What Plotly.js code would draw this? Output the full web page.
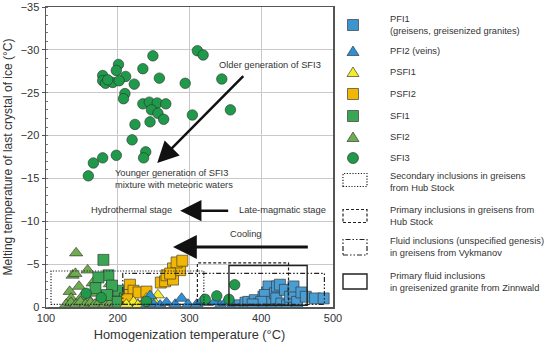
<!DOCTYPE html>
<html><head><meta charset="utf-8">
<script src="https://cdn.plot.ly/plotly-3.0.1.min.js"></script>
<style>html,body{margin:0;padding:0;background:#fff}#c{width:550px;height:343px}</style>
</head><body><div id="c"></div>
<script>
// ---- data (homogenization temperature °C, melting temperature °C) ----
const pfi1X = [370,378,382,391,396,403,408,410,405,414,419,421,422,426,428,433,436,440,445,445,450,456,462,400,388,475,487];
const pfi1Y = [-0.2,-0.5,-0.6,-0.8,-0.3,-1.2,-1.7,-2.4,-1.4,-0.6,-1.6,-1.0,-2.4,-2.6,-0.4,-2.0,-0.2,-1.2,-1.6,-2.4,-0.6,-1.7,-1.2,-0.6,-0.3,-1.0,-1.0];
const pfi2X = [240,250,259,268,280,289,298,310,318,324,335,343,350,361,372,380,390,400,410,245];
const pfi2Y = [-0.2,-0.3,-0.2,-0.5,-0.3,-1.0,-0.3,-0.3,-0.8,-0.5,-0.6,-0.2,-0.5,-0.3,-0.3,-0.6,-0.3,-0.4,-0.2,-1.3];
const psfi1X = [256,250,222,235,244,228,212,240];
const psfi1Y = [-1.4,-0.7,-0.6,-0.4,-0.3,-0.2,-0.3,-1.0];
const psfi2X = [217,217,222,229,240,213,260,266,268,277,277,287,282,290,273];
const psfi2Y = [-2.6,-1.4,-1.9,-1.7,-1.8,-0.9,-2.85,-3.0,-3.7,-3.2,-4.5,-4.3,-5.2,-5.4,-3.9];
const sfi1X = [180,187,173,169,201,192,210,185,200];
const sfi1Y = [-5.5,-3.7,-3.45,-2.2,-1.9,-2.5,-1.0,-1.4,-0.6];
const sfi2X = [142,137,141,158,146,165,133,135,189,150,170,160,128,135,142,148,155,162,168,175,182,190,197,205,212,220,228,178,195];
const sfi2Y = [-6.3,-3.7,-3.9,-4.3,-2.4,-2.8,-1.8,-1.0,-2.7,-1.2,-1.6,-0.8,-0.3,-0.5,-0.3,-0.6,-0.3,-0.5,-0.3,-0.6,-0.3,-0.5,-0.3,-0.5,-0.3,-0.4,-0.3,-1.2,-1.5];
const sfi3X = [249,311,319,201,198,235,179,211,258,179,183,193,202,186,223,294,345,210,208,235,244,255,267,247,256,264,304,357,224,245,220,239,236,198,179,166,159,
               156,177,240,322,338,355,363];
const sfi3Y = [-29.3,-29.9,-29.4,-28.3,-27.6,-27.8,-27.0,-26.9,-26.7,-26.4,-26.1,-26.2,-26.4,-26.5,-26.0,-26.1,-26.6,-24.9,-24.3,-23.7,-23.9,-23.8,-23.7,-23.0,-22.6,-21.9,-22.4,-23.0,-21.3,-21.6,-19.5,-18.1,-17.4,-17.7,-17.4,-16.8,-15.3,
               -1.6,-1.1,-0.65,-0.9,-1.3,-0.9,-2.6];
// literature fields (x from, x to, y from, y to)
const boxNames = ["Secondary inclusions in greisens<br>from Hub Stock","Primary inclusions in greisens from<br>Hub Stock","Fluid inclusions (unspecified genesis)<br>in greisens from Vykmanov","Primary fluid inclusions<br>in greisenized granite from Zinnwald"];
const boxX0 = [107,311,207,355];
const boxX1 = [320,438,488,464];
const boxY0 = [-0.3,-0.3,-0.3,-0.2];
const boxY1 = [-4.2,-5.15,-3.93,-4.85];
const xTicks = [100,200,300,400,500];

// ---- styling ----
const FONT = "Liberation Sans, Arial, sans-serif";
const TXT = "#333";
const FS = 9.3;
const series = [
  {name:"SFI2", x:sfi2X, y:sfi2Y, sym:"triangle-up", col:"#6fab4f", size:11.5},
  {name:"SFI1", x:sfi1X, y:sfi1Y, sym:"square", col:"#3aa655", size:11},
  {name:"PSFI2", x:psfi2X, y:psfi2Y, sym:"square", col:"#f2b705", size:11},
  {name:"PSFI1", x:psfi1X, y:psfi1Y, sym:"triangle-up", col:"#f4ee2a", size:11.5},
  {name:"PFI2", x:pfi2X, y:pfi2Y, sym:"triangle-up", col:"#2e8fd2", size:11.5},
  {name:"PFI1", x:pfi1X, y:pfi1Y, sym:"square", col:"#4a9dd2", size:11},
  {name:"SFI3", x:sfi3X, y:sfi3Y, sym:"circle", col:"#1f9a4a", size:10.5}
];
const traces = series.map(s => ({
  type:"scatter", mode:"markers", name:s.name, x:s.x, y:s.y, cliponaxis:true,
  marker:{symbol:s.sym, color:s.col, size:s.size, line:{color:"rgba(45,45,45,0.75)", width:0.8}},
  showlegend:false, hoverinfo:"skip"
}));

// pixel helpers for the hand-drawn legend (plot area: x 46..333, y 7..307)
const L=46, R=333, T=7, B=307;
const px = p => (p-L)/(R-L);
const py = p => (B-p)/(B-T);

const shapes = [];
const annotations = [];
const dashes = ["1.2px,1.6px","3px,2px","5px,2px,1.5px,2px,1.5px,2px","solid"];
boxNames.forEach((n,i)=>{
  shapes.push({type:"rect", xref:"x", yref:"y", x0:boxX0[i], x1:boxX1[i], y0:boxY0[i], y1:boxY1[i],
    line:{color:"#222", width: i===3?1.4:1.2, dash:dashes[i]}, layer:"above"});
});

// legend: marker entries
const legItems = [
  {t:"PFI1<br>(greisens, greisenized granites)", sym:"square", col:"#3d95d0", y:25},
  {t:"PFI2 (veins)", sym:"tri", col:"#2e8fd2", y:51},
  {t:"PSFI1", sym:"tri", col:"#f4ee2a", y:72},
  {t:"PSFI2", sym:"square", col:"#f2b705", y:94},
  {t:"SFI1", sym:"square", col:"#3aa655", y:116},
  {t:"SFI2", sym:"tri", col:"#6fab4f", y:137},
  {t:"SFI3", sym:"circle", col:"#1f9a4a", y:158}
];
const mx = 353;
legItems.forEach(it=>{
  const ln = {color:"rgba(45,45,45,0.8)", width:0.8};
  if (it.sym==="square") shapes.push({type:"rect", xref:"paper", yref:"paper", x0:px(mx-5.5), x1:px(mx+5.5), y0:py(it.y+5.5), y1:py(it.y-5.5), fillcolor:it.col, line:ln});
  else if (it.sym==="circle") shapes.push({type:"circle", xref:"paper", yref:"paper", x0:px(mx-5.5), x1:px(mx+5.5), y0:py(it.y+5.5), y1:py(it.y-5.5), fillcolor:it.col, line:ln});
  else shapes.push({type:"path", xref:"paper", yref:"paper",
    path:`M ${px(mx-6)} ${py(it.y+4.5)} L ${px(mx+6)} ${py(it.y+4.5)} L ${px(mx)} ${py(it.y-5)} Z`, fillcolor:it.col, line:ln});
  annotations.push({xref:"paper", yref:"paper", x:px(388), y:py(it.y), xanchor:"left", yanchor:"middle", align:"left",
    text:it.t, showarrow:false, font:{family:FONT, size:FS, color:TXT}});
});
// legend: box entries
const boxLegY = [[173.5,186.5,181.5],[209.5,222.5,215.5],[239.5,255,246.5],[274,289,282]];
boxNames.forEach((n,i)=>{
  shapes.push({type:"rect", xref:"paper", yref:"paper", x0:px(343), x1:px(367), y0:py(boxLegY[i][1]), y1:py(boxLegY[i][0]),
    line:{color:"#222", width: i===3?1.4:1.2, dash:dashes[i]}});
  annotations.push({xref:"paper", yref:"paper", x:px(388), y:py(boxLegY[i][2]), xanchor:"left", yanchor:"middle", align:"left",
    text:n, showarrow:false, font:{family:FONT, size:FS, color:TXT}});
});

// in-plot labels and arrows
const lab = (x,y,t,extra={}) => Object.assign({xref:"x", yref:"y", x:x, y:y, xanchor:"left", yanchor:"middle", align:"left", text:t, showarrow:false, font:{family:FONT, size:FS, color:TXT}}, extra);
annotations.push(lab(338,-28.2,"Older generation of SFI3"));
annotations.push(lab(194,-14.9,"Younger generation of SFI3<br>mixture with meteoric waters"));
annotations.push(lab(160,-11.3,"Hydrothermal stage"));
annotations.push(lab(366.5,-11.3,"Late-magmatic stage"));
annotations.push(lab(353,-8.5,"Cooling"));
const arrow = (x0,y0,x1,y1,w) => ({xref:"x", yref:"y", axref:"x", ayref:"y", ax:x0, ay:y0, x:x1, y:y1, text:"", showarrow:true,
  arrowhead:2, arrowsize:1.7, arrowwidth:w, arrowcolor:"#111"});
annotations.push(arrow(377,-27.1,255,-16.8,2.5));
annotations.push(arrow(356,-11.24,287,-11.24,2.5));
annotations.push(arrow(467,-7.0,277,-7.0,2.8));

const layout = {
  width:550, height:343, paper_bgcolor:"#fff", plot_bgcolor:"#fff",
  margin:{l:L, r:550-R, t:T, b:343-B, pad:0},
  font:{family:FONT, size:11, color:TXT},
  showlegend:false,
  xaxis:{range:[100,500], tickvals:xTicks, ticktext:xTicks.map(String), showgrid:true, gridcolor:"#c9c9c9", gridwidth:1,
    zeroline:false, showline:true, linecolor:"#555", linewidth:1.5, mirror:true, ticks:"",
    tickfont:{family:FONT, size:11, color:TXT},
    title:{text:"Homogenization temperature (°C)", font:{family:FONT, size:12.8, color:TXT}, standoff:7}},
  yaxis:{range:[0,-35], dtick:5, tick0:0, showgrid:true, gridcolor:"#c9c9c9", gridwidth:1,
    zeroline:false, showline:true, linecolor:"#555", linewidth:1.5, mirror:true, ticks:"outside", ticklen:3, tickcolor:"#555",
    minor:{dtick:1, ticks:"inside", ticklen:2, tickcolor:"#777", showgrid:false},
    tickfont:{family:FONT, size:11, color:TXT},
    title:{text:"Melting temperature of last crystal of ice (°C)", font:{family:FONT, size:12, color:TXT}, standoff:5}},
  shapes:shapes, annotations:annotations
};
Plotly.newPlot("c", traces, layout, {displayModeBar:false, staticPlot:true});
</script></body></html>
